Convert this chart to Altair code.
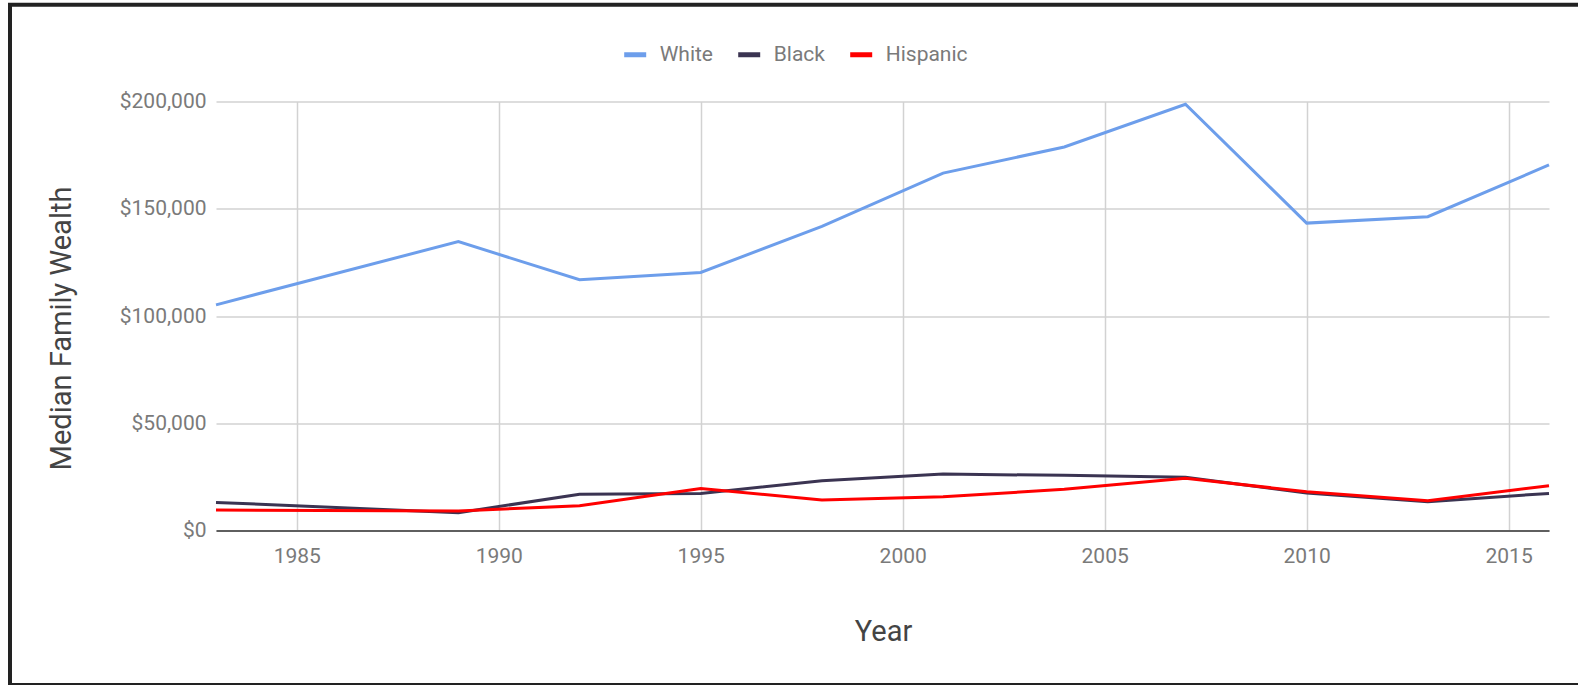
import altair as alt
import pandas as pd

years = [1983, 1989, 1992, 1995, 1998, 2001, 2004, 2007, 2010, 2013, 2016]
white = [105200, 134700, 116900, 120300, 141800, 166600, 178800, 198700, 143300, 146300, 170400]
black = [13100, 8300, 16900, 17300, 23200, 26300, 25700, 24800, 17500, 13400, 17300]
hispanic = [9500, 9100, 11500, 19600, 14200, 15700, 19200, 24300, 18100, 13900, 20900]
groups = ["White", "Black", "Hispanic"]
colors = ["#6d9eeb", "#3b3452", "#ff0000"]
x_ticks = [1985, 1990, 1995, 2000, 2005, 2010, 2015]
y_ticks = [0, 50000, 100000, 150000, 200000]

rows = []
for g, vals in zip(groups, [white, black, hispanic]):
    for y, v in zip(years, vals):
        rows.append({"Year": y, "Group": g, "Wealth": v})
df = pd.DataFrame(rows)

FONT = "Roboto"

lines = alt.Chart(df).mark_line(strokeWidth=3).encode(
    x=alt.X("Year:Q",
            scale=alt.Scale(domain=[1983, 2016], nice=False, zero=False),
            axis=alt.Axis(values=x_ticks, format="d", title="Year",
                          ticks=False, tickSize=0, domain=True,
                          domainColor="#5f5f5f", domainWidth=2,
                          grid=True, gridColor="#d2d2d2", gridWidth=1.5,
                          labelFont=FONT, labelFontSize=21, labelColor="#7a7a7a",
                          labelBaseline="alphabetic", labelPadding=32,
                          titleFont=FONT, titleFontSize=29, titleFontWeight="normal",
                          titleColor="#444444", titleBaseline="alphabetic",
                          titleY=109.5, titleX=667, titleAnchor="middle", titleAlign="center")),
    y=alt.Y("Wealth:Q",
            scale=alt.Scale(domain=[0, 200000], nice=False),
            axis=alt.Axis(values=y_ticks, format="$,.0f", title="Median Family Wealth",
                          ticks=False, tickSize=0, domain=False,
                          grid=True, gridColor="#d2d2d2", gridWidth=1.5,
                          labelFont=FONT, labelFontSize=21, labelColor="#7a7a7a",
                          labelBaseline="middle", labelPadding=10,
                          titleFont=FONT, titleFontSize=29, titleFontWeight="normal",
                          titleColor="#444444", titleAngle=270,
                          titleBaseline="alphabetic", titleAlign="center",
                          titleX=-146, titleY=226.5)),
    color=alt.Color("Group:N",
                    scale=alt.Scale(domain=groups, range=colors),
                    legend=alt.Legend(orient="none", direction="horizontal",
                                      legendX=405.7, legendY=-60.5,
                                      title=None, symbolType="stroke",
                                      symbolSize=484, symbolStrokeWidth=5,
                                      labelFont=FONT, labelFontSize=21,
                                      labelColor="#7a7a7a", labelOffset=11,
                                      columnPadding=14, padding=0)),
)

frame = alt.Chart(pd.DataFrame({"a": [0]})).mark_rect(
    filled=False, stroke="#222222", strokeWidth=4
).encode(
    x=alt.value(-206), x2=alt.value(1450),
    y=alt.value(-96.8), y2=alt.value(583.5)
)

chart = alt.layer(lines, frame).properties(
    width=1333, height=429,
    padding={"left": 216, "top": 101.5, "right": 29, "bottom": 154.5},
    autosize=alt.AutoSizeParams(type="none"),
    background="white",
).configure_view(stroke=None)

chart.save("out.html", embed_options={"renderer": "svg", "actions": False})
